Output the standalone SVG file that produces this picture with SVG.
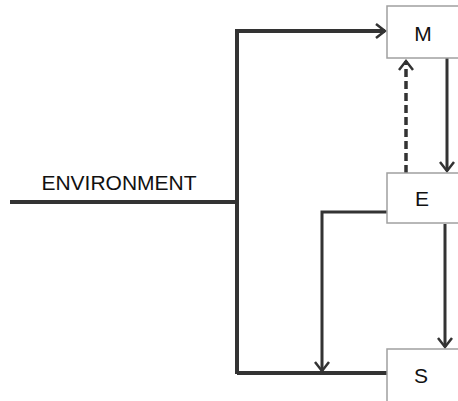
<svg xmlns="http://www.w3.org/2000/svg" width="458" height="401" viewBox="0 0 458 401">
<style>
.box{fill:#fff;stroke:#a0a0a0;stroke-width:1.5}
.lbl{font-family:"Liberation Sans",Arial,sans-serif;font-size:21px;fill:#111;text-anchor:middle}
.thick{fill:none;stroke:#333;stroke-width:4}
.thin{fill:none;stroke:#333;stroke-width:3}
.dash{fill:none;stroke:#333;stroke-width:3.5;stroke-dasharray:8 4}
</style>
<defs>
<marker id="arr" markerUnits="userSpaceOnUse" markerWidth="20" markerHeight="20" viewBox="-12 -10 14 20" refX="0" refY="0" orient="auto">
<path d="M-9,-7 L0,0 L-9,7" fill="none" stroke="#333" stroke-width="2.5"/>
</marker>
</defs>
<g id="connectors">
<path class="thick" d="M10,202 H237"/>
<path class="thick" d="M237,374 V31 H385" marker-end="url(#arr)"/>
<path class="thick" d="M237,373 H387"/>
<path class="thin" d="M387,212 H322 V371" marker-end="url(#arr)"/>
<path class="thin" d="M447,58 V171" marker-end="url(#arr)"/>
<path class="thin" d="M445,224 V347" marker-end="url(#arr)"/>
<path class="dash" d="M406,173 V61" marker-end="url(#arr)"/>
</g>
<text class="lbl" x="119" y="190">ENVIRONMENT</text>
<g id="M"><rect class="box" x="387" y="6" width="80" height="52"/><text class="lbl" x="423" y="41">M</text></g>
<g id="E"><rect class="box" x="387" y="173" width="80" height="50"/><text class="lbl" x="422" y="206">E</text></g>
<g id="S"><rect class="box" x="387" y="349" width="80" height="60"/><text class="lbl" x="421" y="383">S</text></g>
</svg>
